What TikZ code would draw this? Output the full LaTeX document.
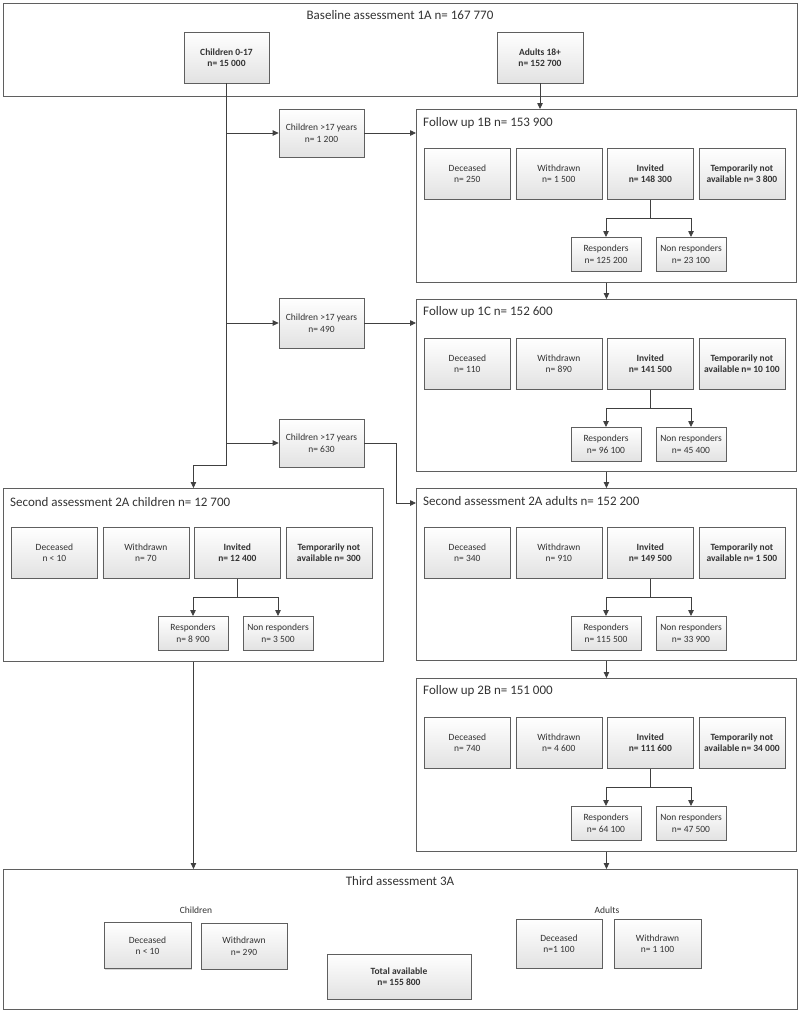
\documentclass[tikz,border=0pt]{standalone}
\usepackage{fontspec}
\setmainfont{Carlito}
\usetikzlibrary{arrows.meta,shadows,positioning}

\definecolor{edge}{HTML}{5F5F5F}
\definecolor{ink}{HTML}{333333}
\definecolor{boxbot}{HTML}{E2E2E2}

\tikzset{
  panel/.style={draw=edge, line width=0.9pt, fill=white, anchor=north west, inner sep=0pt},
  item/.style={draw=edge, line width=0.7pt, top color=white, bottom color=boxbot,
    align=center, text=ink, inner sep=2pt, font=\fontsize{9.5}{11.5}\selectfont,
    drop shadow={shadow xshift=1pt, shadow yshift=-1pt, opacity=0.3}},
  strong/.style={font=\fontsize{9.5}{11.5}\selectfont\bfseries},
  heading/.style={text=ink, inner sep=0pt, font=\fontsize{13}{15}\selectfont},
  caption/.style={text=ink, inner sep=0pt, font=\fontsize{9.5}{11.5}\selectfont},
  arr/.style={draw=black!75, line width=0.8pt, -{Triangle[length=6pt,width=5.5pt]}},
  link/.style={draw=black!75, line width=0.8pt},
}

% inner boxes of one assessment panel: prefix, deceased, withdrawn, invited, not available, responders, non responders
\newcommand{\panelrow}[7]{%
  \begin{scope}[shift={(#1-box.north west)}]
    \node[item, minimum width=86pt, minimum height=51pt, anchor=north west] (#1-dec) at (8,39) {Deceased\\#2};
    \node[item, minimum width=86pt, minimum height=51pt, anchor=north west] (#1-wd) at (99.5,39) {Withdrawn\\#3};
    \node[item, strong, minimum width=86pt, minimum height=51pt, anchor=north west] (#1-inv) at (191,39) {Invited\\#4};
    \node[item, strong, minimum width=86pt, minimum height=51pt, anchor=north west] (#1-tmp) at (282.5,39) {Temporarily not\\available #5};
    \node[item, minimum width=70pt, minimum height=34pt, anchor=north] (#1-res) at (190,128) {Responders\\#6};
    \node[item, minimum width=70pt, minimum height=34pt, anchor=north] (#1-non) at (275,128) {Non responders\\#7};
  \end{scope}
  \draw[link] (#1-inv.south) -- ++(0,19) coordinate (#1-fork);
  \draw[arr] (#1-fork) -| (#1-res.north);
  \draw[arr] (#1-fork) -| (#1-non.north);
}

\begin{document}
\begin{tikzpicture}[x=1pt, y=-1pt]
  \useasboundingbox (0,0) rectangle (800,1013);

  % Baseline assessment
  \node[panel, minimum width=794pt, minimum height=93pt] (base-box) at (3,3) {};
  \node[heading] (base-title) at (400,15) {Baseline assessment 1A n= 167 770};
  \node[item, strong, minimum width=85pt, minimum height=51pt] (kids) at (226.5,57.5) {Children 0-17\\n= 15 000};
  \node[item, strong, minimum width=86pt, minimum height=51pt] (adults) at (540,57.5) {Adults 18+\\n= 152 700};

  % Follow up 1B
  \node[panel, minimum width=380pt, minimum height=173pt] (fu1b-box) at (416,109) {};
  \node[heading, anchor=west] (fu1b-title) at (423,123) {Follow up 1B n= 153 900};
  \panelrow{fu1b}{n= 250}{n= 1 500}{n= 148 300}{n= 3 800}{n= 125 200}{n= 23 100}

  % Follow up 1C
  \node[panel, minimum width=380pt, minimum height=172pt] (fu1c-box) at (416,299) {};
  \node[heading, anchor=west] (fu1c-title) at (423,312) {Follow up 1C n= 152 600};
  \panelrow{fu1c}{n= 110}{n= 890}{n= 141 500}{n= 10 100}{n= 96 100}{n= 45 400}

  % Second assessment adults
  \node[panel, minimum width=380pt, minimum height=172pt] (sa2a-box) at (416,488) {};
  \node[heading, anchor=west] (sa2a-title) at (423,501) {Second assessment 2A adults n= 152 200};
  \panelrow{sa2a}{n= 340}{n= 910}{n= 149 500}{n= 1 500}{n= 115 500}{n= 33 900}

  % Follow up 2B
  \node[panel, minimum width=380pt, minimum height=173pt] (fu2b-box) at (416,678) {};
  \node[heading, anchor=west] (fu2b-title) at (423,691) {Follow up 2B n= 151 000};
  \panelrow{fu2b}{n= 740}{n= 4 600}{n= 111 600}{n= 34 000}{n= 64 100}{n= 47 500}

  % Second assessment children
  \node[panel, minimum width=380pt, minimum height=173pt] (sa2c-box) at (3,488) {};
  \node[heading, anchor=west] (sa2c-title) at (10,502) {Second assessment 2A children n= 12 700};
  \panelrow{sa2c}{n < 10}{n= 70}{n= 12 400}{n= 300}{n= 8 900}{n= 3 500}

  % Children turning 18
  \node[item, minimum width=85pt, minimum height=48pt] (move1) at (321.5,133) {Children >17 years\\n= 1 200};
  \node[item, minimum width=85pt, minimum height=50pt] (move2) at (321.5,323) {Children >17 years\\n= 490};
  \node[item, minimum width=85pt, minimum height=48pt] (move3) at (321.5,443) {Children >17 years\\n= 630};

  % Third assessment
  \node[panel, minimum width=794pt, minimum height=140pt] (ta3-box) at (3,869) {};
  \node[heading] (ta3-title) at (400,881) {Third assessment 3A};
  \node[caption] (ta3-kids) at (196,910) {Children};
  \node[item, minimum width=87pt, minimum height=46pt] (ta3-kdec) at (147.5,945.5) {Deceased\\n < 10};
  \node[item, minimum width=86pt, minimum height=46pt] (ta3-kwd) at (244,946) {Withdrawn\\n= 290};
  \node[item, strong, minimum width=144pt, minimum height=45pt] (ta3-total) at (399,976.5) {Total available\\n= 155 800};
  \node[caption] (ta3-adults) at (607,910) {Adults};
  \node[item, minimum width=86pt, minimum height=49pt] (ta3-adec) at (559,943.5) {Deceased\\n=1 100};
  \node[item, minimum width=87pt, minimum height=49pt] (ta3-awd) at (657.5,943.5) {Withdrawn\\n= 1 100};

  % Connectors
  \coordinate (kids-jog) at (226.5,465);
  \coordinate (move3-jog) at (396,503);
  \draw[arr] (kids.south) -- (kids-jog) -| (sa2c-box.north);
  \draw[arr] (kids.south |- move1.west) -- (move1.west);
  \draw[arr] (kids.south |- move2.west) -- (move2.west);
  \draw[arr] (kids.south |- move3.west) -- (move3.west);
  \draw[arr] (move1.east) -- (move1.east -| fu1b-box.west);
  \draw[arr] (move2.east) -- (move2.east -| fu1c-box.west);
  \draw[arr] (move3.east) -| (move3-jog) -- (move3-jog -| sa2a-box.west);
  \draw[arr] (adults.south) -- (adults.south |- fu1b-box.north);
  \draw[arr] (fu1b-box.south) -- (fu1c-box.north);
  \draw[arr] (fu1c-box.south) -- (sa2a-box.north);
  \draw[arr] (sa2a-box.south) -- (fu2b-box.north);
  \draw[arr] (fu2b-box.south) -- (fu2b-box.south |- ta3-box.north);
  \draw[arr] (sa2c-box.south) -- (sa2c-box.south |- ta3-box.north);
\end{tikzpicture}
\end{document}
